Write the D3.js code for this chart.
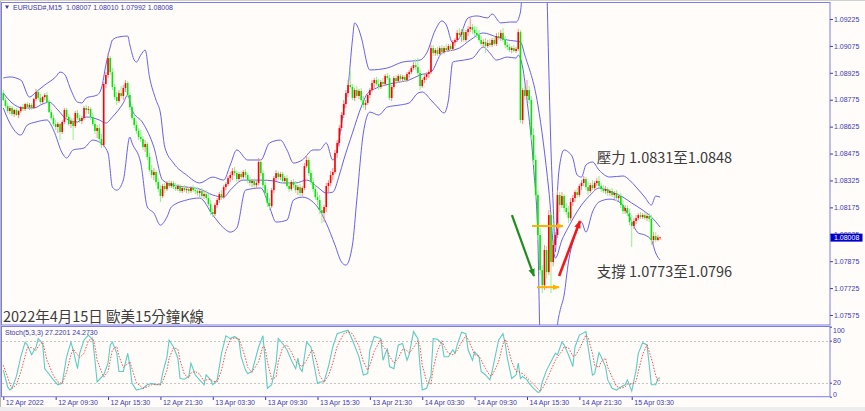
<!DOCTYPE html>
<html><head><meta charset="utf-8">
<script src="https://cdnjs.cloudflare.com/ajax/libs/d3/7.8.5/d3.min.js"></script>
<style>html,body{margin:0;padding:0;background:#fffcfa;overflow:hidden}svg{display:block}</style>
</head><body>
<svg id="chart" width="865" height="411"></svg>
<script>
// ---------------- DATA ----------------
const openP=[1.08812,1.08773,1.08740,1.08712,1.08729,1.08695,1.08718,1.08690,1.08712,1.08734,
1.08723,1.08751,1.08734,1.08746,1.08729,1.08779,1.08818,1.08785,1.08762,1.08790,
1.08801,1.08762,1.08706,1.08673,1.08640,1.08623,1.08640,1.08595,1.08651,1.08718,
1.08679,1.08640,1.08656,1.08628,1.08701,1.08673,1.08656,1.08673,1.08729,1.08718,
1.08723,1.08679,1.08640,1.08601,1.08617,1.08556,1.08522,1.08863,1.08913,1.09007,
1.08929,1.08846,1.08790,1.08768,1.08812,1.08796,1.08840,1.08868,1.08801,1.08734,
1.08673,1.08634,1.08601,1.08567,1.08556,1.08511,1.08528,1.08456,1.08383,1.08355,
1.08372,1.08316,1.08277,1.08238,1.08294,1.08277,1.08311,1.08294,1.08311,1.08288,
1.08277,1.08294,1.08266,1.08283,1.08271,1.08277,1.08266,1.08283,1.08271,1.08266,
1.08255,1.08266,1.08238,1.08249,1.08227,1.08193,1.08149,1.08138,1.08188,1.08216,
1.08249,1.08232,1.08288,1.08305,1.08338,1.08355,1.08377,1.08366,1.08333,1.08361,
1.08344,1.08372,1.08355,1.08327,1.08311,1.08322,1.08299,1.08311,1.08428,1.08366,
1.08299,1.08255,1.08199,1.08182,1.08271,1.08338,1.08366,1.08344,1.08361,1.08322,
1.08338,1.08294,1.08277,1.08316,1.08299,1.08271,1.08288,1.08255,1.08283,1.08405,
1.08439,1.08366,1.08316,1.08277,1.08232,1.08216,1.08160,1.08143,1.08177,1.08294,
1.08311,1.08355,1.08372,1.08478,1.08534,1.08617,1.08690,1.08751,1.08812,1.08857,
1.08846,1.08785,1.08829,1.08796,1.08824,1.08773,1.08746,1.08757,1.08801,1.08829,
1.08868,1.08885,1.08863,1.08846,1.08874,1.08863,1.08907,1.08896,1.08785,1.08846,
1.08896,1.08879,1.08907,1.08890,1.08902,1.08885,1.08918,1.08929,1.08952,1.08968,
1.08957,1.08924,1.08851,1.08885,1.08902,1.08918,1.08929,1.09063,1.09035,1.09052,
1.09030,1.09063,1.09041,1.09063,1.09052,1.09074,1.09058,1.09097,1.09108,1.09147,
1.09136,1.09152,1.09108,1.09152,1.09169,1.09180,1.09164,1.09147,1.09136,1.09108,
1.09086,1.09097,1.09074,1.09091,1.09080,1.09108,1.09086,1.09130,1.09119,1.09147,
1.09108,1.09080,1.09069,1.09052,1.09063,1.09047,1.09058,1.09152,1.08662,1.08829,
1.08796,1.08829,1.08773,1.08578,1.08439,1.08244,1.08021,1.07825,1.07741,1.07937,
1.07814,1.08132,1.07870,1.07965,1.08021,1.08244,1.08188,1.08238,1.08171,1.08149,
1.08115,1.08205,1.08227,1.08260,1.08244,1.08294,1.08311,1.08333,1.08288,1.08266,
1.08299,1.08283,1.08311,1.08322,1.08294,1.08277,1.08266,1.08277,1.08255,1.08266,
1.08244,1.08255,1.08227,1.08238,1.08188,1.08154,1.08171,1.08143,1.08093,1.08071,
1.08099,1.08115,1.08132,1.08121,1.08132,1.08115,1.08127,1.08110,1.07993,1.08015,
1.07993,1.08007];
const highP=[1.08829,1.08785,1.08757,1.08740,1.08740,1.08723,1.08729,1.08718,1.08740,1.08751,
1.08757,1.08762,1.08757,1.08757,1.08785,1.08835,1.08829,1.08807,1.08796,1.08812,
1.08818,1.08773,1.08718,1.08690,1.08662,1.08651,1.08645,1.08662,1.08729,1.08729,
1.08695,1.08673,1.08673,1.08712,1.08718,1.08690,1.08684,1.08740,1.08746,1.08740,
1.08734,1.08701,1.08662,1.08634,1.08640,1.08584,1.08874,1.08929,1.09035,1.09019,
1.08952,1.08863,1.08818,1.08829,1.08851,1.08857,1.08885,1.08879,1.08818,1.08751,
1.08695,1.08656,1.08617,1.08606,1.08573,1.08550,1.08539,1.08478,1.08411,1.08394,
1.08383,1.08338,1.08299,1.08305,1.08311,1.08322,1.08327,1.08322,1.08322,1.08311,
1.08305,1.08305,1.08294,1.08299,1.08294,1.08288,1.08294,1.08299,1.08288,1.08288,
1.08277,1.08283,1.08266,1.08271,1.08249,1.08216,1.08171,1.08199,1.08227,1.08260,
1.08271,1.08299,1.08316,1.08350,1.08372,1.08394,1.08400,1.08377,1.08372,1.08377,
1.08383,1.08389,1.08366,1.08344,1.08333,1.08338,1.08322,1.08450,1.08439,1.08383,
1.08316,1.08277,1.08227,1.08283,1.08350,1.08383,1.08377,1.08372,1.08372,1.08350,
1.08355,1.08316,1.08327,1.08333,1.08322,1.08299,1.08305,1.08294,1.08422,1.08467,
1.08456,1.08383,1.08338,1.08299,1.08260,1.08244,1.08182,1.08188,1.08311,1.08327,
1.08377,1.08394,1.08495,1.08550,1.08634,1.08706,1.08773,1.08829,1.08885,1.08941,
1.08863,1.08840,1.08851,1.08835,1.08840,1.08796,1.08773,1.08812,1.08840,1.08885,
1.08896,1.08902,1.08890,1.08885,1.08896,1.08918,1.08924,1.08913,1.08857,1.08907,
1.08913,1.08918,1.08918,1.08913,1.08913,1.08929,1.08941,1.08963,1.08985,1.09002,
1.09007,1.08941,1.08896,1.08918,1.08929,1.08941,1.09080,1.09080,1.09063,1.09069,
1.09074,1.09080,1.09074,1.09086,1.09086,1.09086,1.09108,1.09119,1.09164,1.09175,
1.09169,1.09175,1.09164,1.09186,1.09231,1.09197,1.09186,1.09180,1.09164,1.09130,
1.09113,1.09119,1.09108,1.09113,1.09119,1.09130,1.09147,1.09152,1.09164,1.09175,
1.09130,1.09097,1.09086,1.09074,1.09080,1.09069,1.09169,1.09164,1.08840,1.08857,
1.08885,1.08851,1.08796,1.08617,1.08467,1.08271,1.08060,1.07853,1.07965,1.07959,
1.08160,1.08149,1.07993,1.08037,1.08271,1.08260,1.08260,1.08249,1.08199,1.08182,
1.08227,1.08244,1.08271,1.08283,1.08305,1.08327,1.08350,1.08344,1.08316,1.08311,
1.08327,1.08322,1.08338,1.08350,1.08311,1.08299,1.08294,1.08288,1.08277,1.08283,
1.08266,1.08271,1.08249,1.08255,1.08216,1.08188,1.08188,1.08166,1.08132,1.08115,
1.08132,1.08143,1.08149,1.08143,1.08149,1.08138,1.08143,1.08132,1.08037,1.08037,
1.08021,1.08010];
const lowP=[1.08768,1.08729,1.08701,1.08695,1.08684,1.08679,1.08684,1.08673,1.08701,1.08712,
1.08712,1.08723,1.08718,1.08718,1.08723,1.08768,1.08773,1.08751,1.08746,1.08773,
1.08751,1.08701,1.08662,1.08628,1.08606,1.08589,1.08550,1.08584,1.08640,1.08662,
1.08628,1.08617,1.08550,1.08617,1.08662,1.08645,1.08640,1.08662,1.08695,1.08695,
1.08662,1.08628,1.08584,1.08561,1.08539,1.08506,1.08511,1.08840,1.08896,1.08913,
1.08829,1.08773,1.08746,1.08757,1.08785,1.08773,1.08818,1.08790,1.08718,1.08662,
1.08617,1.08584,1.08550,1.08539,1.08495,1.08483,1.08439,1.08372,1.08338,1.08327,
1.08299,1.08260,1.08205,1.08227,1.08255,1.08266,1.08283,1.08283,1.08277,1.08266,
1.08266,1.08255,1.08255,1.08260,1.08255,1.08249,1.08255,1.08260,1.08249,1.08238,
1.08232,1.08221,1.08221,1.08216,1.08182,1.08132,1.08121,1.08127,1.08171,1.08199,
1.08216,1.08221,1.08271,1.08294,1.08316,1.08327,1.08350,1.08316,1.08322,1.08327,
1.08333,1.08338,1.08311,1.08294,1.08288,1.08283,1.08277,1.08299,1.08350,1.08283,
1.08238,1.08177,1.08160,1.08171,1.08255,1.08322,1.08327,1.08327,1.08305,1.08305,
1.08283,1.08260,1.08266,1.08283,1.08255,1.08244,1.08238,1.08238,1.08271,1.08394,
1.08350,1.08299,1.08260,1.08216,1.08188,1.08138,1.08087,1.08093,1.08149,1.08260,
1.08294,1.08327,1.08361,1.08450,1.08517,1.08601,1.08673,1.08729,1.08790,1.08835,
1.08773,1.08768,1.08785,1.08779,1.08762,1.08729,1.08718,1.08746,1.08785,1.08818,
1.08840,1.08851,1.08829,1.08835,1.08851,1.08851,1.08885,1.08773,1.08768,1.08835,
1.08863,1.08868,1.08874,1.08874,1.08874,1.08874,1.08896,1.08918,1.08941,1.08941,
1.08913,1.08829,1.08840,1.08868,1.08885,1.08896,1.08918,1.09019,1.09019,1.09019,
1.09019,1.09024,1.09030,1.09041,1.09041,1.09047,1.09047,1.09074,1.09097,1.09119,
1.09097,1.09097,1.09097,1.09130,1.09152,1.09141,1.09130,1.09119,1.09097,1.09074,
1.09063,1.09035,1.09063,1.09069,1.09069,1.09074,1.09074,1.09108,1.09102,1.09097,
1.09063,1.09052,1.09041,1.09035,1.09041,1.09035,1.09047,1.08645,1.08640,1.08773,
1.08779,1.08751,1.08550,1.08411,1.08216,1.07993,1.07797,1.07697,1.07714,1.07780,
1.07797,1.07697,1.07847,1.07948,1.08004,1.08149,1.08171,1.08149,1.08132,1.08087,
1.08099,1.08182,1.08205,1.08227,1.08232,1.08271,1.08294,1.08271,1.08244,1.08255,
1.08271,1.08271,1.08294,1.08283,1.08260,1.08255,1.08249,1.08238,1.08238,1.08232,
1.08221,1.08210,1.08210,1.08171,1.08138,1.08138,1.08127,1.08076,1.07954,1.08054,
1.08082,1.08104,1.08110,1.08110,1.08104,1.08099,1.08093,1.07965,1.07965,1.07981,
1.07987,1.07992];
const closeP=[1.08773,1.08740,1.08712,1.08729,1.08695,1.08718,1.08690,1.08712,1.08734,1.08723,
1.08751,1.08734,1.08746,1.08729,1.08779,1.08818,1.08785,1.08762,1.08790,1.08801,
1.08762,1.08706,1.08673,1.08640,1.08623,1.08640,1.08595,1.08651,1.08718,1.08679,
1.08640,1.08656,1.08628,1.08701,1.08673,1.08656,1.08673,1.08729,1.08718,1.08723,
1.08679,1.08640,1.08601,1.08617,1.08556,1.08522,1.08863,1.08913,1.09007,1.08929,
1.08846,1.08790,1.08768,1.08812,1.08796,1.08840,1.08868,1.08801,1.08734,1.08673,
1.08634,1.08601,1.08567,1.08556,1.08511,1.08528,1.08456,1.08383,1.08355,1.08372,
1.08316,1.08277,1.08238,1.08294,1.08277,1.08311,1.08294,1.08311,1.08288,1.08277,
1.08294,1.08266,1.08283,1.08271,1.08277,1.08266,1.08283,1.08271,1.08266,1.08255,
1.08266,1.08238,1.08249,1.08227,1.08193,1.08149,1.08138,1.08188,1.08216,1.08249,
1.08232,1.08288,1.08305,1.08338,1.08355,1.08377,1.08366,1.08333,1.08361,1.08344,
1.08372,1.08355,1.08327,1.08311,1.08322,1.08299,1.08311,1.08428,1.08366,1.08299,
1.08255,1.08199,1.08182,1.08271,1.08338,1.08366,1.08344,1.08361,1.08322,1.08338,
1.08294,1.08277,1.08316,1.08299,1.08271,1.08288,1.08255,1.08283,1.08405,1.08439,
1.08366,1.08316,1.08277,1.08232,1.08216,1.08160,1.08143,1.08177,1.08294,1.08311,
1.08355,1.08372,1.08478,1.08534,1.08617,1.08690,1.08751,1.08812,1.08857,1.08846,
1.08785,1.08829,1.08796,1.08824,1.08773,1.08746,1.08757,1.08801,1.08829,1.08868,
1.08885,1.08863,1.08846,1.08874,1.08863,1.08907,1.08896,1.08785,1.08846,1.08896,
1.08879,1.08907,1.08890,1.08902,1.08885,1.08918,1.08929,1.08952,1.08968,1.08957,
1.08924,1.08851,1.08885,1.08902,1.08918,1.08929,1.09063,1.09035,1.09052,1.09030,
1.09063,1.09041,1.09063,1.09052,1.09074,1.09058,1.09097,1.09108,1.09147,1.09136,
1.09152,1.09108,1.09152,1.09169,1.09180,1.09164,1.09147,1.09136,1.09108,1.09086,
1.09097,1.09074,1.09091,1.09080,1.09108,1.09086,1.09130,1.09119,1.09147,1.09108,
1.09080,1.09069,1.09052,1.09063,1.09047,1.09058,1.09152,1.08662,1.08829,1.08796,
1.08829,1.08773,1.08578,1.08439,1.08244,1.08021,1.07825,1.07741,1.07937,1.07814,
1.08132,1.07870,1.07965,1.08021,1.08244,1.08188,1.08238,1.08171,1.08149,1.08115,
1.08205,1.08227,1.08260,1.08244,1.08294,1.08311,1.08333,1.08288,1.08266,1.08299,
1.08283,1.08311,1.08322,1.08294,1.08277,1.08266,1.08277,1.08255,1.08266,1.08244,
1.08255,1.08227,1.08238,1.08188,1.08154,1.08171,1.08143,1.08093,1.08071,1.08099,
1.08115,1.08132,1.08121,1.08132,1.08115,1.08127,1.08110,1.07993,1.08015,1.07993,
1.08007,1.08008];

// Bollinger bands (at these bar indices)
const upperBar=[0,3,8,12,15,19,24,26,28,31,34,36,38,43,45,47,49,50,53,57,58,60,61,63,65,67,70,72,74,78,84,90,96,101,104,107,112,118,122,127,130,133,137,142,145,148,151,153,156,158,160,161,163,164,168,176,183,191,194,198,201,203,206,209,213,217,222,224,228,232,235,237,238,240,244,248,249,250,251,252,253,254,255,257,259,261,263,265,267,270,273,278,284,287,290,294,297,299,301];
const upperVal=[1.08896,1.08902,1.08885,1.08790,1.08818,1.08857,1.08902,1.08929,1.08918,1.08829,1.08762,1.08757,1.08785,1.08801,1.08840,1.08968,1.09069,1.09108,1.09125,1.09130,1.09080,1.08996,1.08985,1.09024,1.09052,1.08902,1.08773,1.08701,1.08511,1.08422,1.08355,1.08311,1.08344,1.08327,1.08411,1.08495,1.08439,1.08439,1.08534,1.08550,1.08495,1.08422,1.08439,1.08495,1.08495,1.08534,1.08439,1.08495,1.08718,1.08846,1.09108,1.09203,1.09164,1.09125,1.08941,1.08952,1.08985,1.08996,1.09035,1.09164,1.09214,1.09192,1.09091,1.09119,1.09231,1.09242,1.09231,1.09253,1.09203,1.09208,1.09208,1.09264,1.09415,1.09665,1.09833,1.09721,1.09442,1.08941,1.08495,1.08188,1.07926,1.08271,1.08411,1.08495,1.08483,1.08450,1.08355,1.08344,1.08411,1.08428,1.08383,1.08344,1.08350,1.08327,1.08288,1.08232,1.08188,1.08238,1.08232];
const midBar=[0,4,9,14,18,21,25,29,34,38,44,47,50,55,57,59,64,69,73,78,84,90,96,101,104,110,118,124,128,134,139,144,148,151,154,156,160,164,167,171,179,186,191,196,201,209,214,220,226,231,237,239,245,250,253,256,259,262,265,269,273,279,284,288,293,297,301];
const midVal=[1.08812,1.08757,1.08729,1.08729,1.08751,1.08762,1.08718,1.08667,1.08651,1.08679,1.08662,1.08645,1.08679,1.08757,1.08801,1.08718,1.08645,1.08511,1.08327,1.08299,1.08288,1.08277,1.08244,1.08232,1.08271,1.08327,1.08327,1.08322,1.08311,1.08311,1.08327,1.08288,1.08255,1.08260,1.08355,1.08439,1.08589,1.08734,1.08812,1.08840,1.08868,1.08885,1.08913,1.08929,1.09035,1.09063,1.09108,1.09147,1.09125,1.09108,1.09097,1.09024,1.08746,1.08271,1.07892,1.07993,1.08065,1.08132,1.08188,1.08244,1.08283,1.08260,1.08232,1.08199,1.08160,1.08121,1.08065];
const lowerBar=[0,3,8,11,15,20,23,27,29,32,37,41,44,48,50,52,55,58,59,63,66,69,72,75,77,84,90,96,101,104,107,111,118,122,125,130,133,137,144,148,152,155,157,160,162,165,168,172,176,182,186,190,192,196,199,202,204,206,211,215,220,223,226,231,235,236,238,240,243,245,246,250,253,254,255,257,259,261,263,265,267,270,273,278,283,287,291,294,297,299,301];
const lowerVal=[1.08729,1.08645,1.08578,1.08634,1.08651,1.08662,1.08606,1.08478,1.08450,1.08495,1.08506,1.08550,1.08539,1.08478,1.08288,1.08271,1.08327,1.08567,1.08534,1.08422,1.08177,1.08143,1.08076,1.08121,1.08177,1.08216,1.08227,1.08132,1.08060,1.08037,1.08060,1.08271,1.08283,1.08177,1.08093,1.08104,1.08216,1.08232,1.08177,1.08087,1.07965,1.07870,1.07853,1.07965,1.08216,1.08589,1.08706,1.08690,1.08734,1.08746,1.08757,1.08812,1.08818,1.08773,1.08734,1.08701,1.08773,1.08985,1.08996,1.09007,1.09069,1.09035,1.08996,1.09013,1.09007,1.09024,1.08957,1.08773,1.08400,1.07993,1.07435,1.06989,1.07324,1.07519,1.07591,1.07686,1.07870,1.07981,1.08060,1.08093,1.08037,1.08149,1.08205,1.08221,1.08199,1.08121,1.08032,1.08021,1.07993,1.07920,1.07881];

// Stochastic (5,3,3)
const stochBar=[0,2,3,4,6,8,10,11,13,15,16,18,19,20,23,25,27,29,31,32,34,35,37,39,41,42,43,46,48,49,50,52,53,55,57,58,59,61,64,66,68,70,72,73,75,76,78,80,81,83,85,86,88,90,92,93,95,96,98,100,102,104,106,108,109,111,112,114,117,119,120,121,123,125,126,128,130,132,134,135,136,137,139,141,142,144,145,147,149,151,153,156,158,160,163,165,167,168,170,173,174,176,177,179,181,183,185,186,188,190,191,192,194,196,197,199,201,202,204,206,207,208,210,212,213,215,216,218,219,221,223,224,227,229,230,231,233,235,236,237,238,240,241,243,245,246,247,249,251,253,254,256,257,259,261,262,264,267,268,270,271,273,274,276,277,279,281,283,285,286,288,290,291,293,295,297,299,300,301];
const stochK=[38,14,9.5,12,29,57,78,74,60,71,83,76,40,36,24,17,19,57,78,67,40,62,81,88,81,52,21,31,48,74,78,62,36,36,62,45,19,9.5,12,17,19,17,17,33,57,81,71,55,26,25,29,48,31,24,17,31,24,17,24,62,87,83,86,81,57,38,33,36,71,87,52,12,17,48,83,76,67,52,40,55,40,36,78,71,52,19,21,21,43,71,90,93,95,81,57,31,33,67,86,83,52,69,43,40,74,76,52,60,93,83,43,9.5,12,30,83,82,76,57,57,67,62,74,92,90,67,52,64,57,36,31,24,36,81,90,76,55,26,31,48,26,29,24,19,12,6,7,21,38,50,62,60,78,74,60,43,71,88,93,71,31,33,63,57,43,24,12,9.5,14,17,24,8,38,62,77,74,17,17,26,27.2201];
const stochD=[45,28,18,12,17,35,58,70,70,66,72,78,66,52,30,21,19,35,60,68,60,56,62,80,84,72,52,28,36,52,67,72,58,42,47,50,40,20,12,14,17,18,17,22,38,55,70,68,52,32,27,34,36,32,22,24,25,22,21,38,65,82,84,83,74,55,42,35,50,72,70,50,25,28,50,70,74,64,50,48,45,43,52,65,66,45,30,21,30,48,72,90,93,90,72,50,38,45,65,82,72,65,58,48,55,68,66,62,70,80,72,45,22,18,40,65,80,72,62,60,62,66,78,87,82,68,60,58,52,40,30,30,50,75,82,74,50,36,36,34,33,27,24,18,11,8,11,24,38,52,57,65,71,70,58,58,68,88,84,62,45,42,50,55,42,28,15,12,14,18,18,22,36,60,74,55,30,22,24.2730];

const priceTicks=[1.09225,1.09075,1.08925,1.08775,1.08625,1.08475,1.08325,1.08175,1.08025,1.07875,1.07725,1.07575];
const stochTicks=[100,80,20,0];
const stochLevels=[80,20];
const timeBars=[0,24,48,72,96,120,144,168,192,216,240,264,288];
const timeLabels=["12 Apr 2022","12 Apr 09:30","12 Apr 15:30","12 Apr 21:30","13 Apr 03:30","13 Apr 09:30","13 Apr 15:30","13 Apr 21:30","14 Apr 03:30","14 Apr 09:30","14 Apr 15:30","14 Apr 21:30","15 Apr 03:30"];

const titleText="EURUSD#,M15  1.08007 1.08010 1.07992 1.08008";
const stochTitle="Stoch(5,3,3) 27.2201 24.2730";
const chartCaption="2022年4月15日 歐美15分鐘K線";
const noteTexts=["壓力 1.0831至1.0848","支撐 1.0773至1.0796"];
const noteBar=[272,272];
const notePrice=[1.08425,1.07786];
// annotation arrows: start (bar, price) -> end (bar, price)
const arrowX1=[233.1,254.7,242.3,244.6];
const arrowP1=[1.08132,1.07792,1.08071,1.07730];
const arrowX2=[243.2,264.3,256.5,254.7];
const arrowP2=[1.07792,1.08099,1.08071,1.07730];

// ---------------- DRAWING ----------------
const svg=d3.select('#chart');
const FRAME='#7d7de6', AXTXT='#3b3bb0';
const x=d3.scaleLinear().domain([0,301]).range([3.3,660.1]);
const y=d3.scaleLinear().domain([1.07575,1.09225]).range([315,19]);
const ys=d3.scaleLinear().domain([0,100]).range([396.7,326.7]);

const defs=svg.append('defs');
defs.append('clipPath').attr('id','clipMain').append('rect').attr('x',2).attr('y',3).attr('width',827.5).attr('height',322);
defs.append('clipPath').attr('id','clipStoch').append('rect').attr('x',2).attr('y',327).attr('width',827.5).attr('height',69.5);

svg.append('rect').attr('width',865).attr('height',411).attr('fill','#fffcfa');
svg.append('rect').attr('x',0).attr('y',407).attr('width',865).attr('height',4).attr('fill','#ededed');
svg.append('line').attr('x1',0.5).attr('x2',0.5).attr('y1',0).attr('y2',407).attr('stroke','#b8b8b8');
svg.append('line').attr('x1',0).attr('x2',865).attr('y1',0.5).attr('y2',0.5).attr('stroke','#d0d0d0');

const gMain=svg.append('g').attr('clip-path','url(#clipMain)');
const idx=d3.range(closeP.length);
const isBull=i=>closeP[i]>=openP[i];

// Bollinger bands
const bandLine=d3.line().x(d=>x(d[0])).y(d=>y(d[1])).curve(d3.curveMonotoneX);
[[upperBar,upperVal],[midBar,midVal],[lowerBar,lowerVal]].forEach(([b,v])=>{
  gMain.append('path').datum(d3.zip(b,v)).attr('d',bandLine)
    .attr('fill','none').attr('stroke','#6262ee').attr('stroke-width',1);
});

// candles
gMain.selectAll('line.wick').data(idx).join('line').attr('class','wick')
  .attr('x1',i=>x(i)).attr('x2',i=>x(i))
  .attr('y1',i=>y(highP[i])).attr('y2',i=>y(lowP[i]))
  .attr('stroke',i=>isBull(i)?'#ff8c8c':'#8cf58c').attr('stroke-width',1);
gMain.selectAll('rect.body').data(idx).join('rect').attr('class','body')
  .attr('x',i=>x(i)-0.8).attr('width',1.6)
  .attr('y',i=>Math.min(y(openP[i]),y(closeP[i])))
  .attr('height',i=>Math.max(0.8,Math.abs(y(openP[i])-y(closeP[i]))))
  .attr('fill',i=>isBull(i)?'#ff0000':'#00e800');

// arrows
const arrowColors=['#1e8c1e','#f01818','#ffb000','#ffb000'];
const arrowWidths=[2.2,2.6,2,2];
arrowColors.forEach((c,k)=>{
  defs.append('marker').attr('id','ah'+k).attr('viewBox','0 0 10 8')
    .attr('refX',9).attr('refY',4).attr('markerWidth',k<2?8:7).attr('markerHeight',k<2?7:6)
    .attr('markerUnits','userSpaceOnUse').attr('orient','auto')
    .append('path').attr('d','M0,0L10,4L0,8Z').attr('fill',c);
});
const gAnn=svg.append('g');
d3.range(arrowX1.length).forEach(k=>{
  gAnn.append('line').attr('x1',x(arrowX1[k])).attr('y1',y(arrowP1[k]))
    .attr('x2',x(arrowX2[k])).attr('y2',y(arrowP2[k]))
    .attr('stroke',arrowColors[k]).attr('stroke-width',arrowWidths[k])
    .attr('marker-end','url(#ah'+k+')');
});

// notes
noteTexts.forEach((t,k)=>{
  gAnn.append('text').attr('x',x(noteBar[k])).attr('y',y(notePrice[k])).text(t)
    .attr('font-family','"Noto Sans CJK TC","Noto Sans CJK SC",sans-serif')
    .attr('font-size',14.5).attr('fill','#3a3a3a');
});
svg.append('text').attr('x',3).attr('y',321.5).text(chartCaption)
  .attr('font-family','"Noto Sans CJK TC","Noto Sans CJK SC",sans-serif')
  .attr('font-size',14.5).attr('fill','#3c3c3c');

// title
svg.append('path').attr('d','M5,5.5L9,5.5L7,9Z').attr('fill','#3838a8');
svg.append('text').attr('x',13).attr('y',10).attr('xml:space','preserve').text(titleText)
  .attr('font-family','"Liberation Sans",Arial,sans-serif').attr('font-size',7).attr('fill','#3838a8');

// stochastic panel
const gSt=svg.append('g').attr('clip-path','url(#clipStoch)');
gSt.selectAll('line.lvl').data(stochLevels).join('line').attr('class','lvl')
  .attr('x1',2).attr('x2',830).attr('y1',d=>Math.round(ys(d))+0.5).attr('y2',d=>Math.round(ys(d))+0.5)
  .attr('stroke','#c4c4c4').attr('stroke-dasharray','2,2');
const stLine=d3.line().x(d=>x(d[0])).y(d=>ys(d[1]));
gSt.append('path').datum(d3.zip(stochBar,stochK)).attr('d',stLine)
  .attr('fill','none').attr('stroke','#5ccdc2').attr('stroke-width',1.1);
gSt.append('path').datum(d3.zip(stochBar,stochD)).attr('d',stLine)
  .attr('fill','none').attr('stroke','#ff4a4a').attr('stroke-width',1).attr('stroke-dasharray','1.5,1.5');
svg.append('text').attr('x',5).attr('y',335).text(stochTitle)
  .attr('font-family','"Liberation Sans",Arial,sans-serif').attr('font-size',7).attr('fill','#3838a8');

// frames
svg.append('rect').attr('x',1.5).attr('y',2.5).attr('width',828.5).attr('height',322.5)
  .attr('fill','none').attr('stroke',FRAME);
svg.append('rect').attr('x',1.5).attr('y',326.5).attr('width',828.5).attr('height',70.2)
  .attr('fill','none').attr('stroke',FRAME);

// price axis
const fmt=d3.format('.5f');
const gY=svg.append('g').attr('transform','translate(830,0)').attr('color',AXTXT)
  .call(d3.axisRight(y).tickValues(priceTicks).tickFormat(fmt).tickSize(3).tickPadding(1));
gY.select('.domain').remove();
gY.selectAll('text').attr('font-family','"Liberation Sans",Arial,sans-serif').attr('font-size',7);

// current price box
const last=closeP[closeP.length-1];
svg.append('rect').attr('x',830.5).attr('y',y(last)-3.7).attr('width',32).attr('height',8).attr('fill','#0000c8');
svg.append('text').attr('x',834).attr('y',y(last)+2.6).text(fmt(last))
  .attr('font-family','"Liberation Sans",Arial,sans-serif').attr('font-size',7).attr('fill','#ffffff');

// stochastic axis
const gS=svg.append('g').attr('transform','translate(830,0)').attr('color',AXTXT)
  .call(d3.axisRight(ys).tickValues(stochTicks).tickSize(2).tickPadding(1));
gS.select('.domain').remove();
gS.selectAll('text').attr('font-family','"Liberation Sans",Arial,sans-serif').attr('font-size',7)
  .attr('dy',d=>d===100?'0.85em':(d===0?'-0.1em':'0.32em'));

// time axis
const gX=svg.append('g').attr('transform','translate(0,397)').attr('color',AXTXT)
  .call(d3.axisBottom(x).tickValues(timeBars).tickFormat((d,i)=>timeLabels[i]).tickSize(3).tickPadding(1));
gX.select('.domain').remove();
gX.selectAll('text').attr('font-family','"Liberation Sans",Arial,sans-serif').attr('font-size',7)
  .attr('text-anchor','start').attr('x',2).attr('y',3).attr('dy','0.71em');
</script>
</body></html>
